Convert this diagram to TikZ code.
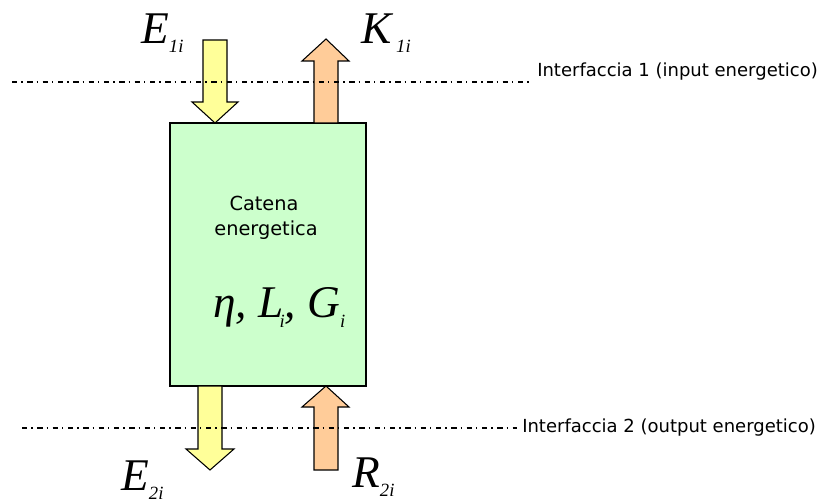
\documentclass[tikz,border=0pt]{standalone}
\usepackage{fontspec}
\setmainfont{DejaVu Sans}
\newfontfamily\tms{Liberation Serif}
\newcommand\lsub[2][6.75pt]{\raisebox{-#1}{\fontsize{14}{14}\selectfont #2}}
\definecolor{boxgreen}{HTML}{CCFFCC}
\definecolor{arryellow}{HTML}{FFFF99}
\definecolor{arrorange}{HTML}{FFCC99}
\begin{document}
\begin{tikzpicture}[x=0.75pt,y=-0.75pt,
  blockarrow/.style={draw=black,line width=0.8pt,line join=miter},
  iface/.style={line width=0.8pt,dash pattern=on 4pt off 3pt on 1pt off 3.5pt},
  mlab/.style={inner sep=0pt,anchor=base west,font=\tms\itshape\fontsize{34}{34}\selectfont},
  slab/.style={inner sep=0pt,font=\fontsize{13.5}{16}\selectfont},
  blab/.style={inner sep=0pt,anchor=base,font=\fontsize{14.5}{18}\selectfont}]
\useasboundingbox (0,0) rectangle (817,499);
% central block
\node[draw=black,line width=0.8pt,fill=boxgreen,minimum width=147pt,minimum height=197.25pt,inner sep=0pt] (box) at (268,254.5) {};
\node[blab] (t1) at (264,210) {Catena};
\node[blab] (t2) at (266,235) {energetica};
\node[mlab] (par) at (213,317) {η, L\kern-3pt\lsub[7.5pt]{i}, G\lsub[7.5pt]{i}};
% arrows
\draw[blockarrow,fill=arryellow] (203,40) -- (227,40) -- (227,102) -- (238,102) -- (215,123) -- (192,102) -- (203,102) -- cycle;
\draw[blockarrow,fill=arrorange] (314,123) -- (338,123) -- (338,61) -- (349,61) -- (326,39) -- (302,61) -- (314,61) -- cycle;
\draw[blockarrow,fill=arryellow] (198,386) -- (222,386) -- (222,449) -- (234,449) -- (210,470) -- (186,449) -- (198,449) -- cycle;
\draw[blockarrow,fill=arrorange] (314,470) -- (338,470) -- (338,407) -- (349,407) -- (326,386) -- (302,407) -- (314,407) -- cycle;
% labels
\node[mlab] (e1) at (141,44) {E\lsub{1i}};
\node[mlab] (k1) at (361,44) {K\kern3.5pt\lsub{1i}};
\node[mlab] (e2) at (121,490) {E\lsub{2i}};
\node[mlab] (r2) at (352,487) {R\lsub{2i}};
% interfaces
\coordinate (l1a) at (12,82);
\coordinate (l1b) at (533,82);
\coordinate (l2a) at (22,428);
\coordinate (l2b) at (517,428);
\draw[iface] (l1a) -- (l1b);
\draw[iface] (l2a) -- (l2b);
\node[slab,anchor=base west] (i1) at (537,77) {Interfaccia 1 (input energetico)};
\node[slab,anchor=base west] (i2) at (522,432) {Interfaccia 2 (output energetico)};
\end{tikzpicture}
\end{document}
